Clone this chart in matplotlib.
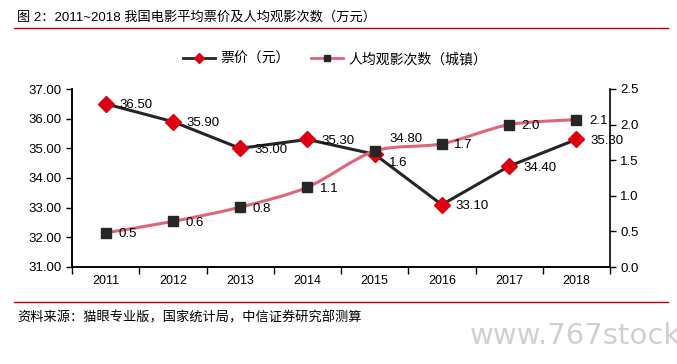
import numpy as np
import matplotlib.pyplot as plt
from matplotlib.path import Path
from matplotlib.patches import PathPatch
from matplotlib.lines import Line2D

plt.rcParams['font.family'] = ['Liberation Sans', 'Noto Sans CJK SC']

years = ['2011', '2012', '2013', '2014', '2015', '2016', '2017', '2018']
price = [36.50, 35.90, 35.00, 35.30, 34.80, 33.10, 34.40, 35.30]
visits = [0.48, 0.64, 0.84, 1.12, 1.63, 1.73, 2.00, 2.07]
visit_labels = ['0.5', '0.6', '0.8', '1.1', '1.6', '1.7', '2.0', '2.1']

title = '图 2：2011~2018 我国电影平均票价及人均观影次数（万元）'
source = '资料来源：猫眼专业版，国家统计局，中信证券研究部测算'
legend_names = ['票价（元）', '人均观影次数（城镇）']

dark = '#262626'
red = '#dd0010'
pink = '#e0647a'

fig = plt.figure(figsize=(6.77, 3.64), dpi=100)
ax = fig.add_axes([72 / 677, 1 - 267 / 364, 538 / 677, 178 / 364])
ax2 = ax.twinx()

x = np.arange(len(years))

# price line (left axis)
ax.plot(x, price, color=dark, lw=2.2, marker='D', ms=8, mfc=red, mec=red, zorder=3)
for i, v in enumerate(price):
    off = (11, 11) if i == 4 else (10, -1)
    ax.annotate(f'{v:.2f}', (x[i], v), xytext=off, textcoords='offset points',
                ha='left', va='center', fontsize=9.5, color='black')

# smoothed visits line (right axis), Catmull-Rom -> cubic bezier
pts = np.column_stack([x, visits]).astype(float)
ext = np.vstack([pts[0], pts, pts[-1]])
verts = [tuple(pts[0])]
codes = [Path.MOVETO]
for i in range(len(pts) - 1):
    p0, p1, p2, p3 = ext[i], ext[i + 1], ext[i + 2], ext[i + 3]
    c1 = p1 + (p2 - p0) / 7
    c2 = p2 - (p3 - p1) / 7
    verts += [tuple(c1), tuple(c2), tuple(p2)]
    codes += [Path.CURVE4] * 3
ax2.add_patch(PathPatch(Path(verts, codes), fill=False, ec=pink, lw=2.2, zorder=2))
ax2.plot(x, visits, ls='none', marker='s', ms=6.5, mfc=dark, mec=dark, zorder=3)
for i, v in enumerate(visits):
    off = (10, -9) if i == 4 else (9, -1)
    ax2.annotate(visit_labels[i], (x[i], v), xytext=off, textcoords='offset points',
                 ha='left', va='center', fontsize=9.5, color='black')

# axes styling
ax.set_xlim(-0.5, len(years) - 0.5)
ax.set_ylim(31, 37)
ax.set_yticks(np.arange(31, 37.5, 1))
ax.set_yticklabels([f'{t:.2f}' for t in np.arange(31, 37.5, 1)])
ax2.set_ylim(0, 2.5)
ax2.set_yticks(np.arange(0, 2.6, 0.5))
ax2.set_yticklabels([f'{t:.1f}' for t in np.arange(0, 2.6, 0.5)])

ax.set_xticks(x)
ax.set_xticklabels(years)
ax.set_xticks(np.arange(-0.5, len(years)), minor=True)
ax.tick_params(axis='x', which='major', length=0, pad=6, labelsize=9)
ax.tick_params(axis='x', which='minor', length=5, width=1, direction='out')
ax.tick_params(axis='y', length=4, width=1, direction='out', labelsize=9.5)
ax2.tick_params(axis='y', length=4, width=1, direction='out', labelsize=9.5)

for a in (ax, ax2):
    a.spines['top'].set_visible(False)
    for s in ('left', 'right', 'bottom'):
        a.spines[s].set_linewidth(1.2)
        a.spines[s].set_color('black')
ax.spines['right'].set_visible(False)

# legend
handles = [
    Line2D([], [], color=dark, lw=2, marker='D', ms=5.5, mfc=red, mec=red),
    Line2D([], [], color=pink, lw=2, marker='s', ms=5, mfc=dark, mec=dark),
]
fig.legend(handles, legend_names, loc='center', bbox_to_anchor=(0.495, 1 - 59 / 364),
           ncol=2, frameon=False, fontsize=10, handlelength=2.3, columnspacing=1.5,
           handletextpad=0.4)

# title, rules, source, watermark
fig.text(17 / 677, 1 - 17 / 364, title, fontsize=9.5, ha='left', va='center')
fig.add_artist(Line2D([14 / 677, 668 / 677], [1 - 28 / 364] * 2, color='#c00000', lw=1))
fig.add_artist(Line2D([14 / 677, 668 / 677], [1 - 302 / 364] * 2, color='#c00000', lw=1))
fig.text(17 / 677, 1 - 318 / 364, source, fontsize=9.5, ha='left', va='center')
fig.text(470 / 677, 1 - 336 / 364, 'www.767stock', fontsize=21, color='#d0d0d0',
         ha='left', va='center', family='DejaVu Sans')

fig.savefig('out.png', dpi=100)
